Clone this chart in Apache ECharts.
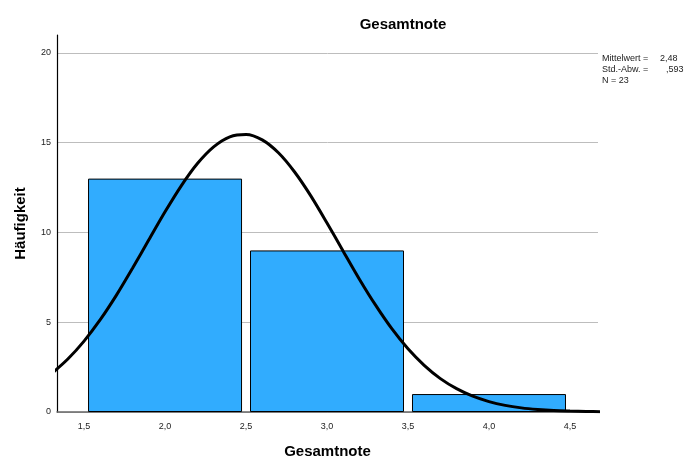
<!DOCTYPE html>
<html>
<head>
<meta charset="utf-8">
<script src="https://cdn.jsdelivr.net/npm/echarts@6/dist/echarts.min.js"></script>
<style>
  html, body { margin: 0; padding: 0; background: #fff; }
  #chart { width: 684px; height: 464px; }
</style>
</head>
<body>
<div id="chart"></div>
<script>
// histogram of Gesamtnote, bins of width 1
var binCenters = [2, 3, 4];
var counts = [13, 9, 1];
var xTickLabels = [1.5, 2.0, 2.5, 3.0, 3.5, 4.0, 4.5];

// normal curve
var curveX = [1.3, 1.4, 1.5, 1.6, 1.7, 1.8, 1.9, 2.0, 2.1, 2.2, 2.3, 2.4, 2.5, 2.6, 2.7, 2.8, 2.9,
  3.0, 3.1, 3.2, 3.3, 3.4, 3.5, 3.6, 3.7, 3.8, 3.9, 4.0, 4.1, 4.2, 4.3, 4.4, 4.5, 4.6, 4.7];
var curveY = [2.14, 2.95, 3.95, 5.14, 6.51, 8.02, 9.59, 11.15, 12.60, 13.84, 14.77, 15.33, 15.46, 15.16, 14.44, 13.37, 12.04,
  10.53, 8.96, 7.40, 5.95, 4.64, 3.52, 2.60, 1.86, 1.30, 0.88, 0.58, 0.37, 0.23, 0.14, 0.08, 0.05, 0.03, 0.01];

var statNames = ['Mittelwert =', 'Std.-Abw. =', 'N = 23'];
var statValues = ['2,48', ',593', ''];
var statValueX = [660, 666, 0];

var font = 'Liberation Sans, Arial, sans-serif';

var chart = echarts.init(document.getElementById('chart'));

var barData = binCenters.map(function (c, i) { return [c, counts[i]]; });
var curveData = curveX.map(function (x, i) { return [x, curveY[i]]; });

var statText = [];
statNames.forEach(function (t, i) {
  statText.push({
    type: 'text', left: 602, top: 54 + i * 11,
    style: { text: t, fontFamily: font, fontSize: 9, fill: '#222' }
  });
  if (statValues[i]) {
    statText.push({
      type: 'text', left: statValueX[i], top: 54 + i * 11,
      style: { text: statValues[i], fontFamily: font, fontSize: 9, fill: '#222' }
    });
  }
});

chart.setOption({
  animation: false,
  title: {
    text: 'Gesamtnote',
    left: 398,
    top: 12,
    textAlign: 'center',
    textStyle: { fontFamily: font, fontSize: 15, fontWeight: 'bold', color: '#000' }
  },
  grid: { left: 57, right: 86, top: 35, bottom: 49.5 },
  xAxis: {
    type: 'value',
    min: 1.333,
    max: 4.673,
    name: 'Gesamtnote',
    nameLocation: 'middle',
    nameGap: 32,
    nameTextStyle: { fontFamily: font, fontSize: 15, fontWeight: 'bold', color: '#000' },
    axisLine: { show: true, onZero: false, lineStyle: { color: '#666', width: 1.5 } },
    axisTick: { show: false },
    splitLine: { show: false },
    axisLabel: {
      customValues: xTickLabels,
      margin: 10,
      fontFamily: font,
      fontSize: 9,
      color: '#222',
      formatter: function (v) { return v.toFixed(1).replace('.', ','); }
    }
  },
  yAxis: {
    type: 'value',
    min: 0,
    max: 21,
    interval: 5,
    name: 'Häufigkeit',
    nameLocation: 'middle',
    nameGap: 29,
    nameTextStyle: { fontFamily: font, fontSize: 15, fontWeight: 'bold', color: '#000' },
    axisLine: { show: true, lineStyle: { color: '#000', width: 1.2 } },
    axisTick: { show: false },
    axisLabel: {
      showMaxLabel: false,
      margin: 6,
      fontFamily: font,
      fontSize: 9,
      color: '#222'
    },
    splitLine: { show: true, showMaxLine: false, lineStyle: { color: '#bdbdbd', width: 1 } }
  },
  graphic: statText,
  series: [
    {
      type: 'bar',
      data: barData,
      barWidth: 154,
      itemStyle: { color: '#31acfe', borderColor: '#000', borderWidth: 1 },
      z: 2
    },
    {
      type: 'line',
      data: curveData,
      smooth: 0.3,
      showSymbol: false,
      clip: true,
      lineStyle: { color: '#000', width: 3 },
      z: 3
    }
  ]
});
</script>
</body>
</html>
